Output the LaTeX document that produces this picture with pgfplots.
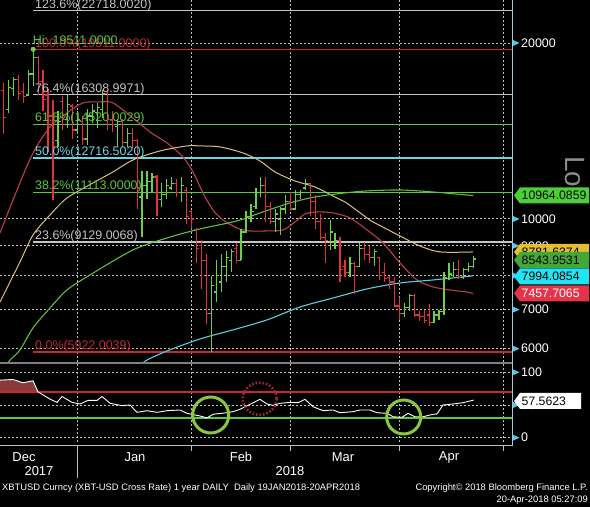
\documentclass[border=0pt]{standalone}
\usepackage{pgfplots}
\pgfplotsset{compat=1.18}
\usepackage{pgfplotstable}
\usepackage{fontspec}
\setmainfont{Liberation Sans}
\definecolor{upc}{HTML}{6CCF4C}
\definecolor{dnc}{HTML}{E0343C}
\definecolor{gridc}{HTML}{BEBEBE}
\definecolor{fibgray}{HTML}{C4C4C4}
\definecolor{fibred}{HTML}{C42A30}
\definecolor{fibgreen}{HTML}{5CC83A}
\definecolor{fibcyan}{HTML}{6CD4E4}
\definecolor{mared}{HTML}{BE3C4A}
\definecolor{mayel}{HTML}{DCC07C}
\definecolor{magrn}{HTML}{5CC03C}
\definecolor{macyn}{HTML}{5CCCE0}
\definecolor{rsifill}{HTML}{8A3A3C}
\definecolor{circg}{HTML}{8CC63F}
\definecolor{circr}{HTML}{A0283C}
\definecolor{tri}{HTML}{5EC4E0}
\definecolor{axc}{HTML}{A8C8D8}
\definecolor{boxga}{HTML}{4CD038}
\definecolor{boxgb}{HTML}{44A838}
\definecolor{boxy}{HTML}{E2BE30}
\definecolor{boxc}{HTML}{20E4F4}
\definecolor{boxr}{HTML}{E6334A}
\definecolor{sepc}{HTML}{808080}
\definecolor{logc}{HTML}{8C8C8C}

\pgfdeclareplotmark{otick}{\pgfpathmoveto{\pgfqpoint{-2.6bp}{0pt}}\pgfpathlineto{\pgfqpoint{0pt}{0pt}}\pgfusepathqstroke}
\pgfdeclareplotmark{ctick}{\pgfpathmoveto{\pgfqpoint{0pt}{0pt}}\pgfpathlineto{\pgfqpoint{2.6bp}{0pt}}\pgfusepathqstroke}

\newcommand\lab{\fontsize{12.5}{14}\selectfont}
\newcommand\mon{\fontsize{13}{15}\selectfont}
\newcommand\foot{\fontsize{9.4}{10}\selectfont}
\newcommand\boxf{\fontsize{12.3}{14}\selectfont}
\newcommand\tagbox[5]{%
  \fill[#2] (514,#1) -- (520,#1-8) -- (#5,#1-8) -- (#5,#1+8) -- (520,#1+8) -- cycle;
  \node[anchor=west, text=#4, font=\boxf, inner sep=0] at (521.5,#1) {#3};}

% OHLC bars: x = weekday index (+1), open, high, low, close
\pgfplotstableread{
x o h l c
-14 15400 17300 15200 16800
-13 16700 17500 16200 17300
-10 16300 18000 16200 17700
-9 17700 19511 16900 18900
-4 13600 15300 13300 14700
-2 14800 16300 14300 15700
0 14200 15300 14000 14800
2 13700 15400 13400 15000
3 15000 15700 14600 15300
4 15200 15800 14300 15500
5 15400 16600 14900 16400
8 14400 14800 13300 14700
10 13500 14300 13300 14000
13 10900 12100 9310 11400
14 11400 12100 10800 11600
15 11600 12000 11100 11800
17 10800 11500 10500 11000
18 11000 11700 10800 11400
19 11300 11800 11200 11500
21 11100 11800 10700 11400
27 6900 8000 5922 7700
28 7500 8500 7200 8000
29 7800 8700 7500 8300
30 8300 8800 7800 8600
31 8500 8900 8100 8800
33 8500 9600 8500 9500
34 9500 10300 9450 10100
35 10100 10600 9900 10300
36 10500 11300 10400 11100
37 11100 11800 10900 11400
40 9900 10400 9500 10200
41 10000 10500 9400 10400
42 10400 11000 10200 10700
44 10400 11200 10400 11000
45 11000 11200 10800 11100
46 11300 11700 11200 11500
51 9000 9950 8850 9500
52 9100 9450 8900 9200
55 8100 8600 7950 8400
57 8300 9100 8300 8900
60 8600 8900 8300 8800
66 6900 7180 6800 7050
67 7050 7450 6950 7400
72 6650 6950 6650 6850
73 6850 7000 6720 6950
74 6950 8100 6850 7950
75 7900 8400 7850 8050
76 8000 8450 7950 8200
78 7950 8250 7900 8200
79 8200 8400 8100 8300
80 8300 8650 8250 8544
}\up
\pgfplotstableread{
x o h l c
-15 16600 17100 14000 14900
-12 17300 17600 16000 16400
-11 16500 17100 15800 16200
-8 18900 19000 16300 17200
-7 17200 18000 15300 16000
-6 16300 16700 13000 15000
-5 15000 16000 10780 13300
-3 15900 16200 14200 14800
-1 15600 15700 13700 14200
1 14700 15000 13400 13700
6 16400 16600 14200 14800
7 14800 15300 14100 14500
9 14700 14800 13300 13500
11 14000 14300 13200 13600
12 13600 13700 10400 11300
16 11800 11900 10100 10800
20 11500 11700 10900 11100
22 11200 11350 9800 10100
23 10300 10360 9600 10000
24 9600 9650 8400 8900
25 9000 9200 7600 8500
26 8500 8700 6600 6900
32 8900 9100 8400 8500
38 11400 11800 9900 10500
39 10500 10700 9800 9900
43 10700 11100 10300 10400
47 11500 11500 10100 10700
48 10700 11000 9600 9900
49 9900 10200 9200 9300
50 9300 9450 8400 9200
53 9200 9300 7800 8200
54 8300 8500 7950 8100
56 8400 8450 7450 8300
58 8900 9150 8500 8700
59 8700 9000 8400 8600
61 8600 8610 7870 8000
62 8100 8400 7800 7900
63 7950 8000 7600 7800
64 7800 7950 7070 7100
65 7100 7350 6720 6900
68 7400 7450 6800 6850
69 6850 6950 6700 6800
70 6800 6990 6650 6700
71 6850 7150 6560 6650
77 8200 8500 7900 7950
}\dn

\begin{document}
\begin{tikzpicture}
\fill[black] (0,0) rectangle (590bp,507bp);
\useasboundingbox (0,0) rectangle (590bp,507bp);

\begin{axis}[
  at={(0,145bp)}, anchor=south west,
  scale only axis, width=512bp, height=362bp,
  xmin=-15.7, xmax=87.74,
  ymode=log, ymin=5693, ymax=23693,
  axis line style={draw=none}, tick style={draw=none},
  xtick={0,23,43,65,86}, xticklabels={},
  ytick={6000,7000,8000,9000,10000,20000}, yticklabels={},
  grid=major,
  major grid style={gridc, line width=0.9bp, dash pattern=on 1.5bp off 2.5bp},
]
% Fibonacci levels
\addplot[fibgray, line width=1.2bp] coordinates {(-9.03,22718) (87.74,22718)};
\addplot[fibred, line width=1.2bp] coordinates {(-9.03,19511) (87.74,19511)};
\addplot[fibgray, line width=1.2bp] coordinates {(-9.03,16309) (87.74,16309)};
\addplot[fibgreen, line width=1.2bp] coordinates {(-9.03,14520) (87.74,14520)};
\addplot[fibcyan, line width=1.2bp] coordinates {(-9.03,12716.5) (87.74,12716.5)};
\addplot[fibgreen, line width=1.2bp] coordinates {(-9.03,11113) (87.74,11113)};
\addplot[fibgray, line width=1.2bp] coordinates {(-9.03,9129) (87.74,9129)};
\addplot[fibred, line width=1.2bp] coordinates {(-9.03,5922) (87.74,5922)};
% moving averages
\addplot[mared, line width=1.1bp, smooth] coordinates {(-15.70,9464) (-12.26,11209) (-9.03,12969) (-5.60,14365) (-2.16,15182) (1.07,15792) (4.51,15855) (7.13,15792) (11.17,14884) (14.61,14087) (18.04,13490) (21.27,12765) (23.29,12035) (25.31,11079) (27.33,10361) (29.35,9961) (32.18,9651) (34.81,9539) (38.24,9539) (41.47,9576) (43.90,9883) (45.92,10200) (48.55,10280) (51.58,10240) (55.01,10039) (58.45,9576) (61.68,9099) (65.11,8408) (68.55,7865) (71.78,7652) (75.21,7561) (78.65,7500) (79.86,7457.7)};
\addplot[mayel, line width=1.0bp, smooth] coordinates {(-15.70,7211) (-11.66,8443) (-9.03,9389) (-5.60,10158) (-2.16,10862) (3.09,11524) (7.13,12035) (11.17,12616) (16.63,13073) (22.08,13333) (24.71,13333) (28.75,13281) (33.39,12969) (36.83,12567) (39.86,12035) (43.90,11614) (47.94,11341) (51.98,10904) (54.00,10693) (58.45,10039) (59.66,9883) (65.11,9352) (69.15,8990) (73.19,8782) (79.86,8781.6)};
\addplot[magrn, line width=1.1bp, smooth] coordinates {(-14.6,5600) (-13.68,5737) (-11.66,5970) (-9.03,6510) (-5.60,7042) (-2.16,7561) (2.49,8021) (11.17,8851) (18.04,9279) (24.71,9614) (32.18,9922) (36.83,10240) (42.89,10651) (47.94,10904) (54.00,11079) (58.45,11167) (65.11,11209) (71.78,11121) (79.86,10964.1)};
\addplot[macyn, line width=1.1bp, smooth] coordinates {(13.0,5650) (14.00,5737) (18.04,5945) (24.71,6234) (31.37,6460) (38.24,6719) (44.91,7070) (51.58,7325) (58.45,7592) (65.11,7772) (71.78,7865) (79.86,7994.1)};
% OHLC bars
\addplot[draw=none, mark=none, error bars/.cd, y dir=minus, y explicit, error mark=none, error bar style={draw=upc, line width=1.2bp, solid}] table[x=x, y=h, y error expr=\thisrow{h}-\thisrow{l}] {\up};
\addplot[upc, line width=1.2bp, only marks, mark=otick] table[x=x, y=o] {\up};
\addplot[upc, line width=1.2bp, only marks, mark=ctick] table[x=x, y=c] {\up};
\addplot[draw=none, mark=none, error bars/.cd, y dir=minus, y explicit, error mark=none, error bar style={draw=dnc, line width=1.2bp, solid}] table[x=x, y=h, y error expr=\thisrow{h}-\thisrow{l}] {\dn};
\addplot[dnc, line width=1.2bp, only marks, mark=otick] table[x=x, y=o] {\dn};
\addplot[dnc, line width=1.2bp, only marks, mark=ctick] table[x=x, y=c] {\dn};
% high marker
\addplot[only marks, mark=*, mark size=2.3bp, mark options={fill=upc, draw=upc}] coordinates {(-9,19511)};
% labels
\node[anchor=base west, inner sep=0, yshift=2.5bp, font=\lab, text=fibgray] at (axis cs:-8.63,22718) {123.6\%(22718.0020)};
\node[anchor=base west, inner sep=0, yshift=1.5bp, font=\lab, text=fibred] at (axis cs:-8.63,19511) {100.0\%(19511.0000)};
\node[anchor=base west, inner sep=0, yshift=5bp, font=\lab, text=fibgreen] at (axis cs:-9.1,19511) {Hi: 19511.0000};
\node[anchor=base west, inner sep=0, yshift=2.5bp, font=\lab, text=fibgray] at (axis cs:-8.63,16309) {76.4\%(16308.9971)};
\node[anchor=base west, inner sep=0, yshift=2.5bp, font=\lab, text=fibgreen] at (axis cs:-8.63,14520) {61.8\%(14520.0029)};
\node[anchor=base west, inner sep=0, yshift=2.5bp, font=\lab, text=fibcyan] at (axis cs:-8.63,12716.5) {50.0\%(12716.5020)};
\node[anchor=base west, inner sep=0, yshift=2.5bp, font=\lab, text=fibgreen] at (axis cs:-8.63,11113) {38.2\%(11113.0000)};
\node[anchor=base west, inner sep=0, yshift=2.5bp, font=\lab, text=fibgray] at (axis cs:-8.63,9129) {23.6\%(9129.0068)};
\node[anchor=base west, inner sep=0, yshift=2.5bp, font=\lab, text=fibred] at (axis cs:-8.63,5922) {0.0\%(5922.0039)};
\end{axis}

\begin{axis}[
  at={(0,61bp)}, anchor=south west,
  scale only axis, width=512bp, height=82bp,
  xmin=-15.7, xmax=87.74, ymin=-12.7, ymax=112.7,
  axis line style={draw=none}, tick style={draw=none},
  xtick={0,23,43,65,86}, xticklabels={},
  ytick={0,50,100}, yticklabels={},
  grid=major,
  major grid style={gridc, line width=0.9bp, dash pattern=on 1.5bp off 2.5bp},
]
\addplot[rsifill, fill=rsifill, draw=none] coordinates {(-15.70,88) (-13.07,89) (-11.05,84) (-9.03,87) (-8.02,70) (-15.70,70)};
\addplot[fibred, line width=1.2bp] coordinates {(-15.7,70) (87.74,70)};
\addplot[fibgreen, line width=1.2bp] coordinates {(-15.7,30) (87.74,30)};
\addplot[white, line width=0.9bp] coordinates {(-15.70,88) (-13.07,89) (-11.05,84) (-9.03,87) (-8.02,70) (-5.60,59) (-4.18,54) (-3.17,63) (-1.15,54) (0.46,51.5) (2.08,57) (3.90,57) (4.91,63) (6.53,52.6) (8.95,49) (10.57,50) (11.98,38.8) (14.00,41.3) (16.02,38.8) (18.04,41.3) (20.67,42.4) (22.08,37.3) (24.71,33.2) (26.12,30.1) (27.33,35.8) (30.16,38.2) (31.37,39.8) (32.79,43.4) (34.81,51) (36.83,58.7) (38.24,51.5) (39.46,49.5) (40.87,52.6) (42.89,54) (44.51,53.5) (45.92,58.7) (47.54,47.4) (49.56,41.3) (51.58,42.4) (52.99,38.2) (55.62,39.8) (57.03,42.4) (59.05,42.4) (60.46,38.2) (62.48,37.3) (63.70,32) (65.52,31.2) (66.73,37.3) (68.14,32) (69.76,32) (71.78,35.8) (72.59,36.2) (73.80,50) (75.82,51.5) (77.84,53.5) (80,57.56)};
\end{axis}

\begin{scope}[x=1bp, y=-1bp, shift={(0,507bp)}]
% panel frame
\fill[sepc] (0,362) rectangle (512,364.5);
\draw[axc, line width=1.2bp] (512.3,0) -- (512.3,446);
\draw[gridc, line width=1bp] (0,446) -- (512.3,446);
\foreach \xx in {77.7,191.6,290.6,399.5,503.4} \draw[gridc, line width=0.8bp] (\xx,446) -- (\xx,451);
\draw[gridc, line width=0.8bp] (77.7,446) -- (77.7,478);
% tick markers and labels
\foreach \yy/\lbl in {43/20000, 219/10000, 245.8/9000, 275.7/8000, 309.6/7000, 348.7/6000, 372.3/100, 405/50, 437.7/0} {
  \fill[tri] (513,\yy-3) -- (519.5,\yy) -- (513,\yy+3) -- cycle;
  \node[anchor=west, text=white, font=\lab, inner sep=0] at (521,\yy) {\lbl};
}
% Log label
\node[rotate=-90, anchor=base west, inner sep=0, text=logc, font=\fontsize{28}{30}\selectfont] at (565,156) {Log};
% value tags
\tagbox{195.5}{boxga}{10964.0859}{black}{589}
\tagbox{252}{boxy}{8781.6374}{black}{589}
\tagbox{260}{boxgb}{8543.9531}{black}{589}
\tagbox{276.5}{boxc}{7994.0854}{black}{589}
\tagbox{293.5}{boxr}{7457.7065}{white}{589}
\tagbox{401}{white}{57.5623}{black}{581}
% annotations
\draw[circg, line width=3bp] (210.7,415) circle[radius=18];
\draw[circg, line width=3bp] (403.7,417) circle[radius=17];
\draw[circr, line width=2.6bp, dash pattern=on 1.6bp off 1.9bp] (259.7,398.8) circle[x radius=17, y radius=16];
% month labels
\node[text=white, font=\mon] at (24,457) {Dec};
\node[text=white, font=\mon] at (39,471) {2017};
\node[text=white, font=\mon] at (135,457) {Jan};
\node[text=white, font=\mon] at (241,457) {Feb};
\node[text=white, font=\mon] at (343,457) {Mar};
\node[text=white, font=\mon] at (449,457) {Apr};
\node[text=white, font=\mon] at (290,471) {2018};
% footer
\node[anchor=west, text=white, font=\foot, inner sep=0] at (2,488) {XBTUSD Curncy (XBT-USD Cross Rate) 1 year DAILY\ \ Daily 19JAN2018-20APR2018};
\node[anchor=east, text=white, font=\foot, inner sep=0] at (588,488) {Copyright© 2018 Bloomberg Finance L.P.};
\node[anchor=east, text=white, font=\foot, inner sep=0] at (588,500) {20-Apr-2018 05:27:09};
\end{scope}
\end{tikzpicture}
\end{document}
